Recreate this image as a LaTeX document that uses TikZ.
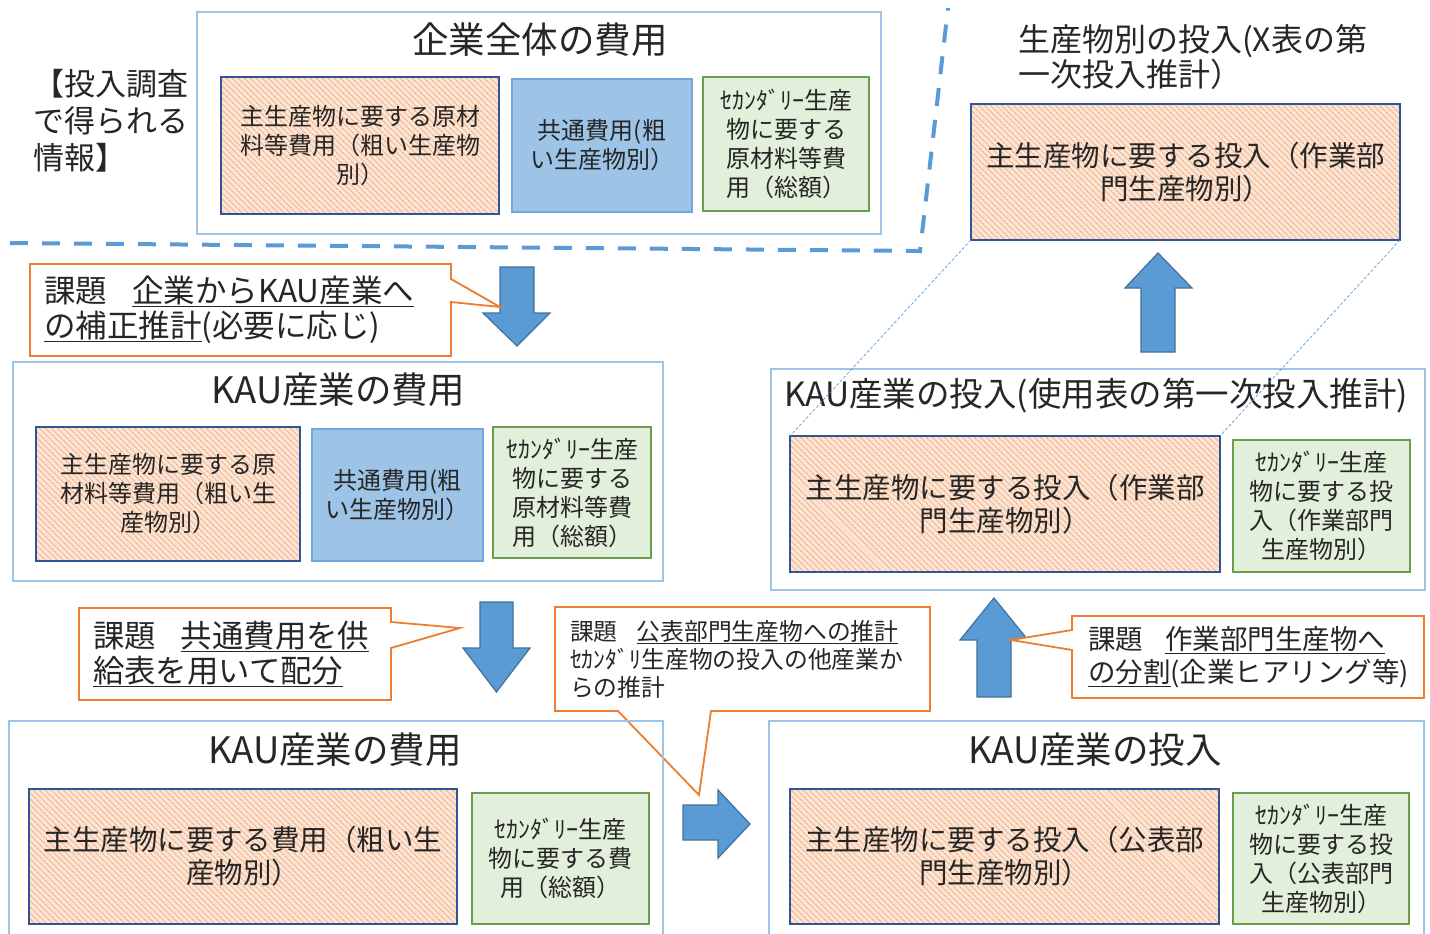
\documentclass[tikz,border=0pt]{standalone}
\usepackage{fontspec}
\setmainfont{Noto Sans CJK JP}
\usetikzlibrary{patterns.meta,calc}
\definecolor{txt}{HTML}{262626}
\definecolor{outerc}{HTML}{9DC3E6}
\definecolor{navy}{HTML}{2F5597}
\definecolor{peach}{HTML}{FBE5D6}
\definecolor{hatchc}{HTML}{F4B183}
\definecolor{bluefill}{HTML}{9DC3E6}
\definecolor{bluebd}{HTML}{6FA8DC}
\definecolor{greenfill}{HTML}{E2EFDA}
\definecolor{greenbd}{HTML}{6B9E4A}
\definecolor{orangec}{HTML}{ED7D31}
\definecolor{arrowfill}{HTML}{5B9BD5}
\definecolor{arrowbd}{HTML}{41719C}
\newcommand{\myfs}[2]{\fontsize{#1}{#2}\selectfont}
\begin{document}
\begin{tikzpicture}[x=1pt,y=-1pt,
  every node/.style={text=txt, inner sep=0pt, outer sep=0pt},
  outerbox/.style={draw=outerc, line width=1.3pt},
  hatchbox/.style={draw=navy, line width=1.8pt, preaction={fill=peach},
    pattern={Lines[angle=-45,distance=4pt,line width=1.1pt]}, pattern color=hatchc, align=center},
  bluebox/.style={draw=bluebd, fill=bluefill, line width=1.2pt, align=center},
  greenbox/.style={draw=greenbd, fill=greenfill, line width=1.8pt, align=center},
  callbox/.style={align=left},
  callline/.style={draw=orangec, fill=white, line width=1.8pt, line join=miter},
  blockarrow/.style={fill=arrowfill, draw=arrowbd, line width=1.2pt, line join=miter},
  divider/.style={draw=arrowfill, line width=4pt, dash pattern=on 18pt off 14pt},
  guide/.style={draw=arrowfill, line width=0.7pt, dash pattern=on 3pt off 2pt},
  ttl/.style={font=\myfs{36.5}{42}},
  small/.style={font=\myfs{24}{29}},
  mid/.style={font=\myfs{28.5}{33}}]
\useasboundingbox[fill=white] (0,0) rectangle (1430,934);

% ---------- block arrows ----------
\draw[blockarrow] (500,267) -- (534,267) -- (534,313) -- (550,313) -- (517,346) -- (483,313) -- (500,313) -- cycle;
\draw[blockarrow] (480,602) -- (513,602) -- (513,648) -- (530,648) -- (496.5,692) -- (463,648) -- (480,648) -- cycle;
\draw[blockarrow] (683,805) -- (718,805) -- (718,790) -- (750,824) -- (718,858) -- (718,840) -- (683,840) -- cycle;
\draw[blockarrow] (977,697) -- (977,640) -- (960,640) -- (994,598) -- (1028,640) -- (1011,640) -- (1011,697) -- cycle;
\draw[blockarrow] (1141,352) -- (1141,288) -- (1125,288) -- (1158,253) -- (1192,288) -- (1175,288) -- (1175,352) -- cycle;

% ---------- callouts ----------
\coordinate (p1) at (500,307);
\coordinate (p2) at (460,628);
\coordinate (p3) at (699,795);
\coordinate (p5) at (1011,640);
\node[callbox, minimum width=421pt, minimum height=92pt] (c1) at (240.5,310) {};
\path[callline] (c1.north west) -- (c1.north east) -- ($(c1.north east)+(0,15)$) -- (p1) -- ($(c1.north east)+(0,38)$) -- (c1.south east) -- (c1.south west) -- cycle;
\node[callbox, text width=393pt, font=\myfs{31.5}{35}] at (c1)
  {課題\hspace{0.8em}\underline{企業からKAU産業へ}\\\underline{の補正推計}(必要に応じ)};

\node[callbox, minimum width=312pt, minimum height=92pt] (c2) at (235,654) {};
\path[callline] (c2.north west) -- (c2.north east) -- ($(c2.north east)+(0,14)$) -- (p2) -- ($(c2.north east)+(0,40)$) -- (c2.south east) -- (c2.south west) -- cycle;
\node[callbox, text width=284pt, font=\myfs{31.4}{35}] at (c2)
  {課題\hspace{0.8em}\underline{共通費用を供}\\\underline{給表を用いて配分}};

\node[callbox, minimum width=375pt, minimum height=104pt] (c3) at (742.5,659) {};
\path[callline] (c3.north west) -- (c3.north east) -- (c3.south east) -- ($(c3.south west)+(156,0)$) -- (p3) -- ($(c3.south west)+(63,0)$) -- (c3.south west) -- cycle;
\node[callbox, text width=345pt, font=\myfs{23.8}{28}] at (c3)
  {課題\hspace{0.8em}\underline{公表部門生産物への推計}\\ｾｶﾝﾀﾞﾘ生産物の投入の他産業か\\らの推計};

\node[callbox, minimum width=352pt, minimum height=82pt] (c5) at (1248,657) {};
\path[callline] (c5.north west) -- (c5.north east) -- (c5.south east) -- (c5.south west) -- ($(c5.north west)+(0,34)$) -- (p5) -- ($(c5.north west)+(0,14)$) -- cycle;
\node[callbox, text width=320pt, font=\myfs{27.5}{33}] at (c5)
  {課題\hspace{0.8em}\underline{作業部門生産物へ}\\\underline{の分割}(企業ヒアリング等)};

% ---------- divider ----------
\draw[divider] (10,243) -- (920,251) -- (948,8);

% ---------- top left ----------
\node[align=left, anchor=west, font=\myfs{31}{37}] (lab) at (33,121) {【投入調査\\で得られる\\情報】};
\node[outerbox, minimum width=684pt, minimum height=222pt] (o1) at (539,123) {};
\node[ttl] (t1) at (540,40) {企業全体の費用};
\node[hatchbox, small, minimum width=278pt, minimum height=137pt] (a1) at (360,145.5) {主生産物に要する原材\\料等費用（粗い生産物\\別）};
\node[bluebox, small, minimum width=180pt, minimum height=133pt] (b1) at (602,145.5) {共通費用(粗\\い生産物別）};
\node[greenbox, small, minimum width=166pt, minimum height=134pt] (g1) at (786,144) {ｾｶﾝﾀﾞﾘｰ生産\\物に要する\\原材料等費\\用（総額）};

% ---------- top right ----------
\node[align=left, anchor=west, font=\myfs{32}{35}] (t2) at (1018,57) {生産物別の投入(X表の第\\一次投入推計）};
\node[hatchbox, mid, minimum width=429pt, minimum height=136pt] (r1) at (1185.5,172) {主生産物に要する投入（作業部\\門生産物別）};

% ---------- middle left ----------
\node[outerbox, minimum width=650pt, minimum height=219pt] (o2) at (338,471.5) {};
\node[ttl] (t3) at (338,390) {KAU産業の費用};
\node[hatchbox, small, minimum width=264pt, minimum height=134pt] (a2) at (168,494) {主生産物に要する原\\材料等費用（粗い生\\産物別）};
\node[bluebox, small, minimum width=171pt, minimum height=132pt] (b2) at (397.5,495) {共通費用(粗\\い生産物別）};
\node[greenbox, small, minimum width=158pt, minimum height=131pt] (g2) at (572,492.5) {ｾｶﾝﾀﾞﾘｰ生産\\物に要する\\原材料等費\\用（総額）};

% ---------- middle right ----------
\node[outerbox, minimum width=654pt, minimum height=221pt] (o3) at (1098,479.5) {};
\node[font=\myfs{33.5}{38}] (t4) at (1096,396) {KAU産業の投入(使用表の第一次投入推計)};
\node[hatchbox, mid, minimum width=430pt, minimum height=136pt] (a3) at (1005,504) {主生産物に要する投入（作業部\\門生産物別）};
\node[greenbox, small, minimum width=177pt, minimum height=132pt] (g3) at (1321.5,506) {ｾｶﾝﾀﾞﾘｰ生産\\物に要する投\\入（作業部門\\生産物別）};
\draw[guide] (r1.south west) -- (a3.north west);
\draw[guide] (r1.south east) -- (a3.north east);

% ---------- bottom left ----------
\node[outerbox, minimum width=654pt, minimum height=219pt] (o4) at (336,830.5) {};
\node[ttl] (t5) at (335,750) {KAU産業の費用};
\node[hatchbox, mid, minimum width=428pt, minimum height=135pt] (a4) at (243,856.5) {主生産物に要する費用（粗い生\\産物別）};
\node[greenbox, small, minimum width=177pt, minimum height=131pt] (g4) at (560.5,858.5) {ｾｶﾝﾀﾞﾘｰ生産\\物に要する費\\用（総額）};

% ---------- bottom right ----------
\node[outerbox, minimum width=655pt, minimum height=219pt] (o5) at (1096.5,830.5) {};
\node[ttl] (t6) at (1095,750) {KAU産業の投入};
\node[hatchbox, mid, minimum width=429pt, minimum height=135pt] (a5) at (1004.5,856.5) {主生産物に要する投入（公表部\\門生産物別）};
\node[greenbox, small, minimum width=176pt, minimum height=131pt] (g5) at (1321,858.5) {ｾｶﾝﾀﾞﾘｰ生産\\物に要する投\\入（公表部門\\生産物別）};
\end{tikzpicture}
\end{document}
